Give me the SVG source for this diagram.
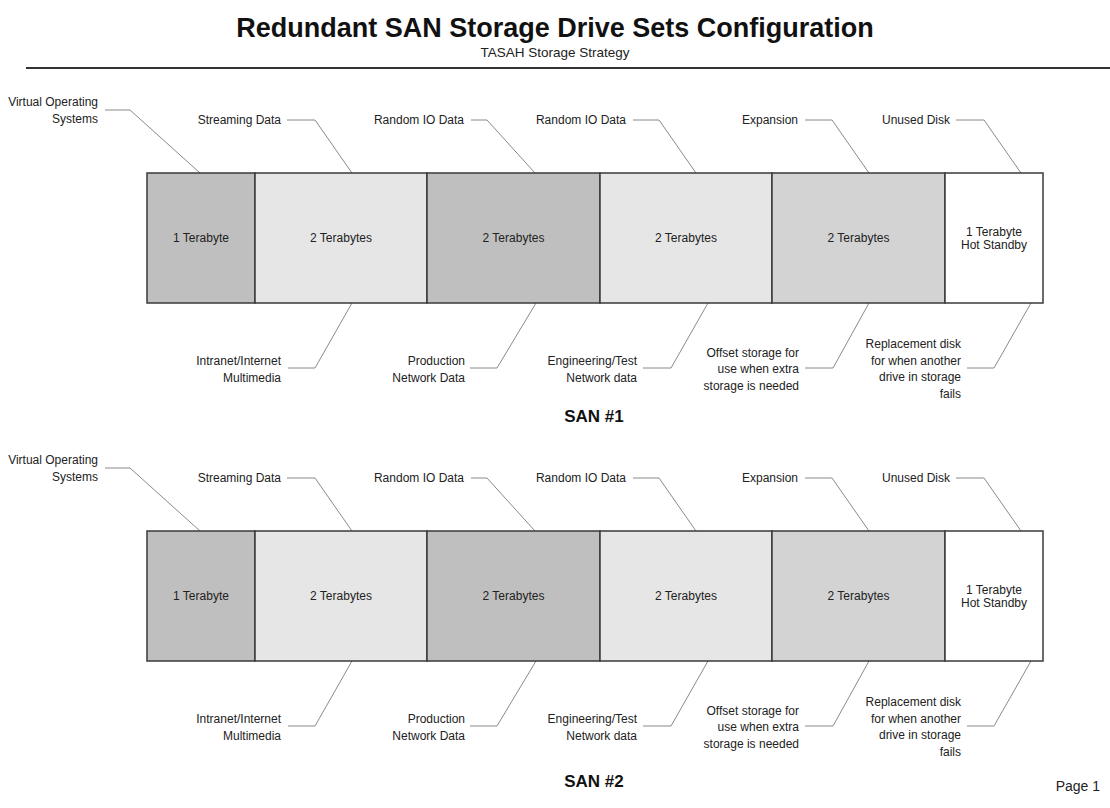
<svg xmlns="http://www.w3.org/2000/svg" width="1110" height="808" viewBox="0 0 1110 808">
<style>
.bg{fill:#ffffff}
.cell{stroke:#3a3a3a;stroke-width:1.5}
.dk{fill:#bfbfbf}
.lt{fill:#e6e6e6}
.md{fill:#d3d3d3}
.wh{fill:#ffffff}
.lead{fill:none;stroke:#8a8a8a;stroke-width:1}
.t{font-family:"Liberation Sans",Arial,sans-serif;font-size:12px;fill:#222222}
.r{text-anchor:end}
.m{text-anchor:middle}
.san{font-family:"Liberation Sans",Arial,sans-serif;font-size:17px;font-weight:bold;fill:#111111;text-anchor:middle}
</style>
<rect class="bg" x="0" y="0" width="1110" height="808"/>
<g id="header">
<text x="555" y="37" font-family="'Liberation Sans',Arial,sans-serif" font-size="27" font-weight="bold" fill="#111111" text-anchor="middle">Redundant SAN Storage Drive Sets Configuration</text>
<text x="555" y="57" font-family="'Liberation Sans',Arial,sans-serif" font-size="13.5" fill="#222222" text-anchor="middle">TASAH Storage Strategy</text>
<line x1="26" y1="68" x2="1110" y2="68" stroke="#333333" stroke-width="2"/>
</g>
<g id="connectors">
<path class="lead" d="M105,110 H130 L200,173"/>
<path class="lead" d="M287,120 H315 L352,173"/>
<path class="lead" d="M471,120 H487 L535,173"/>
<path class="lead" d="M633,120 H659 L696,173"/>
<path class="lead" d="M805,120 H832 L869,173"/>
<path class="lead" d="M956,120 H984 L1021,173"/>
<path class="lead" d="M288,368 H315 L352,303"/>
<path class="lead" d="M470,368 H497 L536,303"/>
<path class="lead" d="M643,368 H671 L708,303"/>
<path class="lead" d="M805,368 H833 L869,303"/>
<path class="lead" d="M967,368 H994 L1031,303"/>
<path class="lead" d="M105,468 H130 L200,531"/>
<path class="lead" d="M287,478 H315 L352,531"/>
<path class="lead" d="M471,478 H487 L535,531"/>
<path class="lead" d="M633,478 H659 L696,531"/>
<path class="lead" d="M805,478 H832 L869,531"/>
<path class="lead" d="M956,478 H984 L1021,531"/>
<path class="lead" d="M288,726 H315 L352,661"/>
<path class="lead" d="M470,726 H497 L536,661"/>
<path class="lead" d="M643,726 H671 L708,661"/>
<path class="lead" d="M805,726 H833 L869,661"/>
<path class="lead" d="M967,726 H994 L1031,661"/>
</g>
<g id="san1">
<g id="san1-vos"><rect class="cell dk" x="147" y="173" width="108" height="130"/><text class="t m" x="201" y="242">1 Terabyte</text></g>
<g id="san1-stream"><rect class="cell lt" x="255" y="173" width="172" height="130"/><text class="t m" x="341" y="242">2 Terabytes</text></g>
<g id="san1-prod"><rect class="cell dk" x="427" y="173" width="173" height="130"/><text class="t m" x="513.5" y="242">2 Terabytes</text></g>
<g id="san1-eng"><rect class="cell lt" x="600" y="173" width="172" height="130"/><text class="t m" x="686" y="242">2 Terabytes</text></g>
<g id="san1-exp"><rect class="cell md" x="772" y="173" width="173" height="130"/><text class="t m" x="858.5" y="242">2 Terabytes</text></g>
<g id="san1-spare"><rect class="cell wh" x="945" y="173" width="98" height="130"/><text class="t m" x="994" y="235.5">1 Terabyte</text><text class="t m" x="994" y="249">Hot Standby</text></g>
</g>
<g id="san1-labels">
<text class="t r" x="98" y="106">Virtual Operating</text>
<text class="t r" x="98" y="122.5">Systems</text>
<text class="t r" x="281" y="124">Streaming Data</text>
<text class="t r" x="464" y="124">Random IO Data</text>
<text class="t r" x="626" y="124">Random IO Data</text>
<text class="t r" x="798" y="124">Expansion</text>
<text class="t r" x="950" y="124">Unused Disk</text>
<text class="t r" x="281" y="365">Intranet/Internet</text>
<text class="t r" x="281" y="381.5">Multimedia</text>
<text class="t r" x="465" y="365">Production</text>
<text class="t r" x="465" y="381.5">Network Data</text>
<text class="t r" x="637" y="365">Engineering/Test</text>
<text class="t r" x="637" y="381.5">Network data</text>
<text class="t r" x="799" y="356.5">Offset storage for</text>
<text class="t r" x="799" y="373">use when extra</text>
<text class="t r" x="799" y="389.5">storage is needed</text>
<text class="t r" x="961" y="348">Replacement disk</text>
<text class="t r" x="961" y="364.5">for when another</text>
<text class="t r" x="961" y="381">drive in storage</text>
<text class="t r" x="961" y="397.5">fails</text>
<text class="san" x="594" y="422">SAN #1</text>
</g>
<g id="san2">
<g id="san2-vos"><rect class="cell dk" x="147" y="531" width="108" height="130"/><text class="t m" x="201" y="600">1 Terabyte</text></g>
<g id="san2-stream"><rect class="cell lt" x="255" y="531" width="172" height="130"/><text class="t m" x="341" y="600">2 Terabytes</text></g>
<g id="san2-prod"><rect class="cell dk" x="427" y="531" width="173" height="130"/><text class="t m" x="513.5" y="600">2 Terabytes</text></g>
<g id="san2-eng"><rect class="cell lt" x="600" y="531" width="172" height="130"/><text class="t m" x="686" y="600">2 Terabytes</text></g>
<g id="san2-exp"><rect class="cell md" x="772" y="531" width="173" height="130"/><text class="t m" x="858.5" y="600">2 Terabytes</text></g>
<g id="san2-spare"><rect class="cell wh" x="945" y="531" width="98" height="130"/><text class="t m" x="994" y="593.5">1 Terabyte</text><text class="t m" x="994" y="607">Hot Standby</text></g>
</g>
<g id="san2-labels">
<text class="t r" x="98" y="464">Virtual Operating</text>
<text class="t r" x="98" y="480.5">Systems</text>
<text class="t r" x="281" y="482">Streaming Data</text>
<text class="t r" x="464" y="482">Random IO Data</text>
<text class="t r" x="626" y="482">Random IO Data</text>
<text class="t r" x="798" y="482">Expansion</text>
<text class="t r" x="950" y="482">Unused Disk</text>
<text class="t r" x="281" y="723">Intranet/Internet</text>
<text class="t r" x="281" y="739.5">Multimedia</text>
<text class="t r" x="465" y="723">Production</text>
<text class="t r" x="465" y="739.5">Network Data</text>
<text class="t r" x="637" y="723">Engineering/Test</text>
<text class="t r" x="637" y="739.5">Network data</text>
<text class="t r" x="799" y="714.5">Offset storage for</text>
<text class="t r" x="799" y="731">use when extra</text>
<text class="t r" x="799" y="747.5">storage is needed</text>
<text class="t r" x="961" y="706">Replacement disk</text>
<text class="t r" x="961" y="722.5">for when another</text>
<text class="t r" x="961" y="739">drive in storage</text>
<text class="t r" x="961" y="755.5">fails</text>
<text class="san" x="594" y="787">SAN #2</text>
</g>
<text x="1100" y="791" font-family="'Liberation Sans',Arial,sans-serif" font-size="14" fill="#222222" text-anchor="end">Page 1</text>
</svg>
